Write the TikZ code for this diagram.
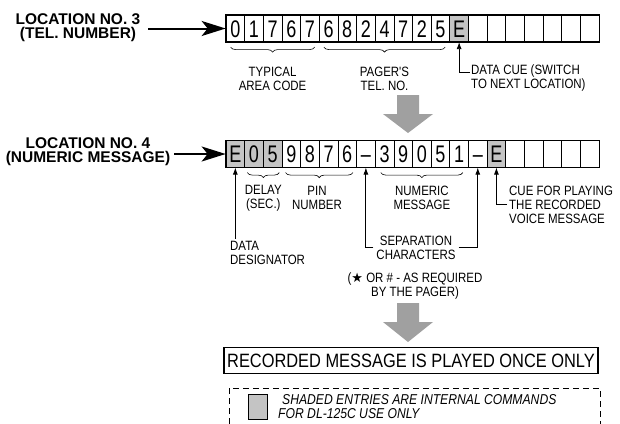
\documentclass[tikz,border=0pt]{standalone}
\usepackage{fontspec}
\setmainfont{Liberation Sans}
\newfontfamily\nf[FakeStretch=0.85]{Liberation Sans}
\newfontfamily\df[FakeStretch=0.75]{Liberation Sans}
\newfontfamily\symf{DejaVu Sans}
\usetikzlibrary{arrows.meta,decorations.pathreplacing,calc}
\definecolor{shadegray}{RGB}{196,196,196}
\definecolor{arrowgray}{RGB}{160,160,160}
\tikzset{
  cell/.style={draw, line width=0.7pt, minimum width=18.65pt, minimum height=26.5pt,
    inner sep=0pt, text height=17.2pt, text depth=0pt, font=\df\fontsize{24}{24}\selectfont},
  cw/.style={},
  cg/.style={fill=shadegray},
  lbl/.style={font=\nf\fontsize{13.5}{14}\selectfont, align=center, inner sep=0pt},
  lbll/.style={font=\nf\fontsize{13.5}{14}\selectfont, align=left, inner sep=0pt},
  loclbl/.style={font=\fontsize{15.5}{14}\selectfont\bfseries, align=center, inner sep=0pt},
  arr/.style={line width=0.8pt, -{Latex[length=7pt,width=5pt]}},
  bigarr/.style={line width=2pt, -{Stealth[length=24pt,width=15pt,inset=6pt]}},
  brc/.style={decorate, decoration={brace, amplitude=5pt, mirror}, line width=0.6pt},
  garrow/.style={fill=arrowgray, draw=none},
}
\begin{document}
\begin{tikzpicture}[x=1pt,y=-1pt]
\useasboundingbox (0,0) rectangle (620,423);

% ---- row 1 ----
\foreach \t/\s [count=\i from 0] in {0/cw,1/cw,7/cw,6/cw,7/cw,6/cw,8/cw,2/cw,4/cw,7/cw,2/cw,5/cw,E/cg,{}/cw,{}/cw,{}/cw,{}/cw,{}/cw,{}/cw,{}/cw}
  \node[cell,\s] (a\i) at ({226+(\i+0.5)*18.65}, 28.5) {\t};
\draw[line width=1.6pt] (a0.north west) rectangle (a19.south east);

\node[loclbl] (loc3) at (78, 27.5) {LOCATION NO. 3\\(TEL. NUMBER)};
\draw[bigarr] ($(loc3.east |- a0.west)+(8,0)$) -- (a0.west);

\draw[brc] ($(a0.south west)+(5,5)$) -- ($(a4.south east)+(-5,5)$);
\draw[brc] ($(a5.south west)+(5,5)$) -- ($(a11.south east)+(-5,5)$);
\node[lbl] (typ) at (272.6, 78.5) {TYPICAL\\AREA CODE};
\node[lbl] (pag) at (384.5, 78.5) {PAGER'S\\TEL. NO.};
\node[lbll, anchor=west] (dc) at (471, 78.5) {DATA CUE (SWITCH\\TO NEXT LOCATION)};
\coordinate (dcl) at ($(dc.west)+(-1,-6)$);
\draw[arr] (dcl) -| (a12.south);

% ---- gray arrow 1 ----
\coordinate (g1) at (408, 95);
\fill[garrow] (g1) ++(-11,0) -- ++(22,0) -- ++(0,19) -- ++(14,0) -- ++(-25,19) -- ++(-25,-19) -- ++(14,0) -- cycle;

% ---- row 2 ----
\foreach \t/\s [count=\i from 0] in {E/cg,0/cg,5/cg,9/cw,8/cw,7/cw,6/cw,–/cw,3/cw,9/cw,0/cw,5/cw,1/cw,–/cw,E/cg,{}/cw,{}/cw,{}/cw,{}/cw,{}/cw}
  \node[cell,\s] (b\i) at ({226+(\i+0.5)*18.65}, 154) {\t};
\draw[line width=1.6pt] (b0.north west) rectangle (b19.south east);

\node[loclbl] (loc4) at (88, 152) {LOCATION NO. 4\\(NUMERIC MESSAGE)};
\draw[bigarr] ($(loc4.east |- b0.west)+(4,0)$) -- (b0.west);

\draw[brc] ($(b1.south west)+(3,5)$) -- ($(b2.south east)+(-3,5)$);
\draw[brc] ($(b3.south west)+(4,5)$) -- ($(b6.south east)+(-4,5)$);
\draw[brc] ($(b8.south west)+(6,5)$) -- ($(b12.south east)+(-6,5)$);
\node[lbl] (del) at (263.3, 198) {DELAY\\(SEC.)};
\node[lbl] (pin) at (317, 198) {PIN\\NUMBER};
\node[lbl] (num) at (421.9, 198) {NUMERIC\\MESSAGE};
\node[lbll, anchor=west] (cue) at (509, 204.5) {CUE FOR PLAYING\\THE RECORDED\\VOICE MESSAGE};
\draw[arr] ($(cue.west)+(-2,0)$) -| (b14.south);

\node[lbll, anchor=west] (dd) at (230, 252.5) {DATA\\DESIGNATOR};
\draw[arr] ($(b0.south |- dd.north)+(0,-2)$) -- (b0.south);

\node[lbl] (sep) at (416, 247.5) {SEPARATION\\CHARACTERS};
\draw[arr] ($(sep.west)+(-3,0)$) -| (b7.south);
\draw[arr] ($(sep.east)+(3,0)$) -| (b13.south);

\node[lbl] (req) at (415, 286.5) {({\symf\fontsize{13}{13}\selectfont ★} OR \# -\ AS REQUIRED\\BY THE PAGER)};

% ---- gray arrow 2 ----
\coordinate (g2) at (408, 303);
\fill[garrow] (g2) ++(-11,0) -- ++(22,0) -- ++(0,19) -- ++(14,0) -- ++(-25,20) -- ++(-25,-20) -- ++(14,0) -- cycle;

% ---- result box ----
\node[draw, line width=1.8pt, minimum width=374pt, minimum height=26pt, inner sep=0pt,
  font=\nf\fontsize{19.3}{19}\selectfont] (rec) at (411, 360.5) {RECORDED MESSAGE IS PLAYED ONCE ONLY};

% ---- legend ----
\coordinate (dbl) at (229, 424);
\coordinate (dbr) at (600, 424);
\draw[line width=0.8pt, dash pattern=on 6pt off 4pt] (dbl) -- (229, 388) -- (600, 388) -- (dbr);
\node[draw, line width=0.8pt, fill=shadegray, minimum width=19pt, minimum height=25pt, inner sep=0pt] (sq) at (257.5, 406.5) {};
\node[anchor=west, inner sep=0pt, font=\nf\itshape\fontsize{14.3}{14}\selectfont] (sh1) at (282, 400) {SHADED ENTRIES ARE INTERNAL COMMANDS};
\node[anchor=west, inner sep=0pt, font=\nf\itshape\fontsize{14.3}{14}\selectfont] (sh2) at (278, 413.5) {FOR DL-125C USE ONLY};
\end{tikzpicture}
\end{document}
